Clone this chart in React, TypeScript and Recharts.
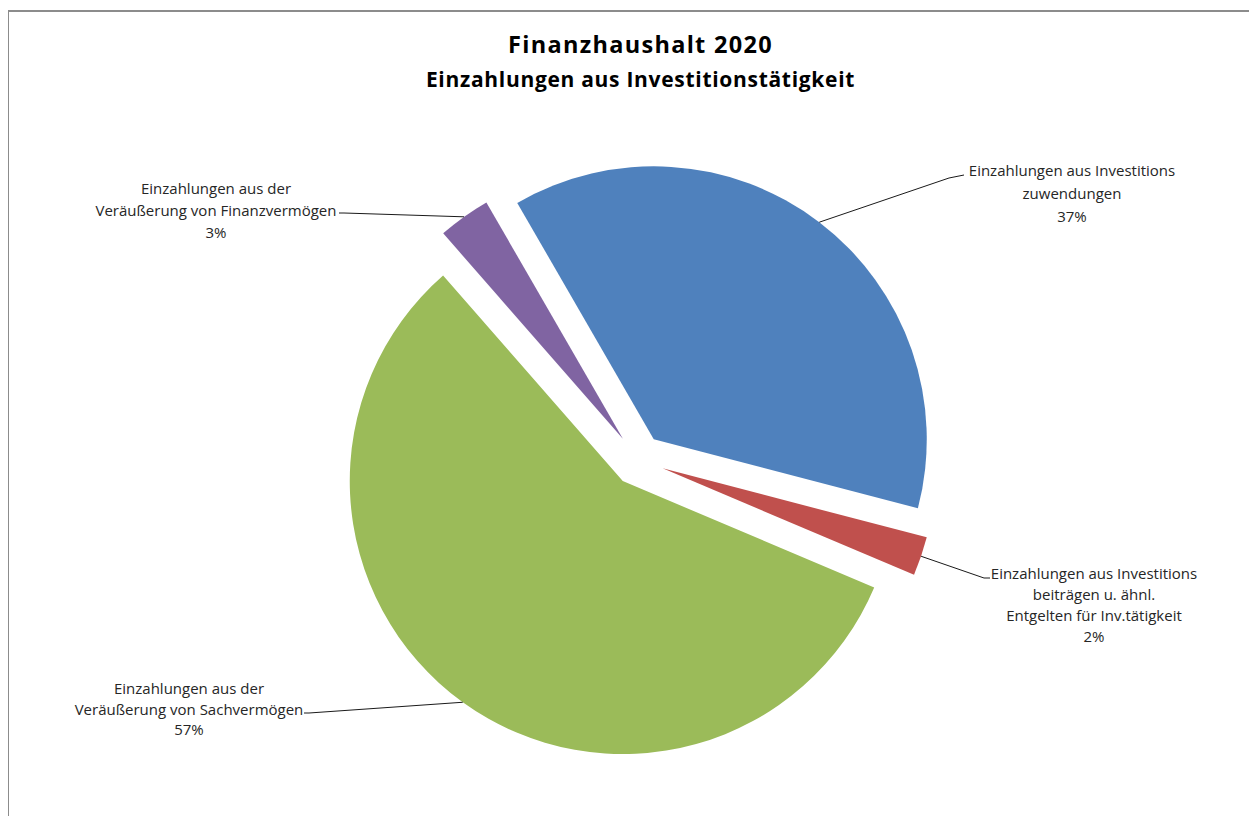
import { Pie, PieChart, Sector, Cell } from "recharts";

const CATEGORIES = [
  "Einzahlungen aus Investitions zuwendungen",
  "Einzahlungen aus Investitions beiträgen u. ähnl. Entgelten für Inv.tätigkeit",
  "Einzahlungen aus der Veräußerung von Sachvermögen",
  "Einzahlungen aus der Veräußerung von Finanzvermögen",
];
const SHARES = [37.4, 2.3, 57.2, 3.1];
const LABEL_LINES = [
  ["Einzahlungen aus Investitions", "zuwendungen"],
  ["Einzahlungen aus Investitions", "beiträgen u. ähnl.", "Entgelten für Inv.tätigkeit"],
  ["Einzahlungen aus der", "Veräußerung von Sachvermögen"],
  ["Einzahlungen aus der", "Veräußerung von Finanzvermögen"],
];
const COLORS = ["#4F81BD", "#C0504D", "#9BBB59", "#8064A2"];

const data = CATEGORIES.map((name, i) => ({ name, value: SHARES[i] }));

const WIDTH = 1247;
const HEIGHT = 804;
const CX = 624;
const CY = 443;
const RADIUS = 273;
const EXPLODE = 26;
const RADIAN = Math.PI / 180;
const FONT = "'Open Sans', Lato, sans-serif";

// where each label block sits and where its leader line bends
const LABEL_LAYOUT = [
  { cx: 1063, top: 158, lh: 23, elbow: [940, 166], end: [955, 163] },
  { cx: 1085, top: 561, lh: 21, elbow: [975, 566], end: [981, 566] },
  { cx: 180, top: 676, lh: 20.5, elbow: [300, 701], end: [295, 701] },
  { cx: 207, top: 176, lh: 22, elbow: [335, 201], end: [330, 201] },
];

const shift = (midAngle: number) => ({
  dx: EXPLODE * Math.cos(-midAngle * RADIAN),
  dy: EXPLODE * Math.sin(-midAngle * RADIAN),
});

const ExplodedSlice = (props: any) => {
  const { dx, dy } = shift(props.midAngle);
  return (
    <Sector
      cx={props.cx + dx}
      cy={props.cy + dy}
      innerRadius={0}
      outerRadius={props.outerRadius}
      startAngle={props.startAngle}
      endAngle={props.endAngle}
      fill={props.fill}
      stroke="none"
    />
  );
};

const renderLabel = (props: any) => {
  const { cx, cy, midAngle, outerRadius, index, percent } = props;
  const { dx, dy } = shift(midAngle);
  const sx = cx + dx + outerRadius * Math.cos(-midAngle * RADIAN);
  const sy = cy + dy + outerRadius * Math.sin(-midAngle * RADIAN);
  const layout = LABEL_LAYOUT[index];
  const lines = [...LABEL_LINES[index], `${Math.round(percent * 100)}%`];
  return (
    <g key={`label-${index}`}>
      <polyline
        points={`${sx},${sy} ${layout.elbow[0]},${layout.elbow[1]} ${layout.end[0]},${layout.end[1]}`}
        fill="none"
        stroke="#1a1a1a"
        strokeWidth={1}
      />
      {lines.map((line, i) => (
        <text
          key={i}
          x={layout.cx}
          y={layout.top + i * layout.lh}
          textAnchor="middle"
          dominantBaseline="central"
          fontFamily={FONT}
          fontSize={15}
          fill="#262626"
        >
          {line}
        </text>
      ))}
    </g>
  );
};

export default function App() {
  return (
    <div
      style={{
        position: "relative",
        width: WIDTH,
        height: HEIGHT,
        marginTop: 2,
        marginLeft: -1,
        borderTop: "2px solid #8c8c8c",
        borderLeft: "2px solid #8c8c8c",
        background: "#fff",
      }}
    >
      <div
        style={{
          position: "absolute",
          left: 8,
          width: WIDTH,
          top: 15,
          textAlign: "center",
          fontFamily: FONT,
          fontWeight: 700,
          color: "#000",
        }}
      >
        <div style={{ fontSize: 23.5, lineHeight: "34px", letterSpacing: 1.3 }}>Finanzhaushalt 2020</div>
        <div style={{ fontSize: 21, lineHeight: "37px", letterSpacing: 0.7 }}>
          Einzahlungen aus Investitionstätigkeit
        </div>
      </div>
      <PieChart width={WIDTH} height={HEIGHT} style={{ position: "absolute", left: 0, top: 0 }}>
        <Pie
          data={data}
          dataKey="value"
          nameKey="name"
          cx={CX}
          cy={CY}
          outerRadius={RADIUS}
          startAngle={120}
          endAngle={-240}
          stroke="none"
          shape={ExplodedSlice}
          label={renderLabel}
          labelLine={false}
          isAnimationActive={false}
        >
          {data.map((entry, i) => (
            <Cell key={entry.name} fill={COLORS[i]} />
          ))}
        </Pie>
      </PieChart>
    </div>
  );
}
